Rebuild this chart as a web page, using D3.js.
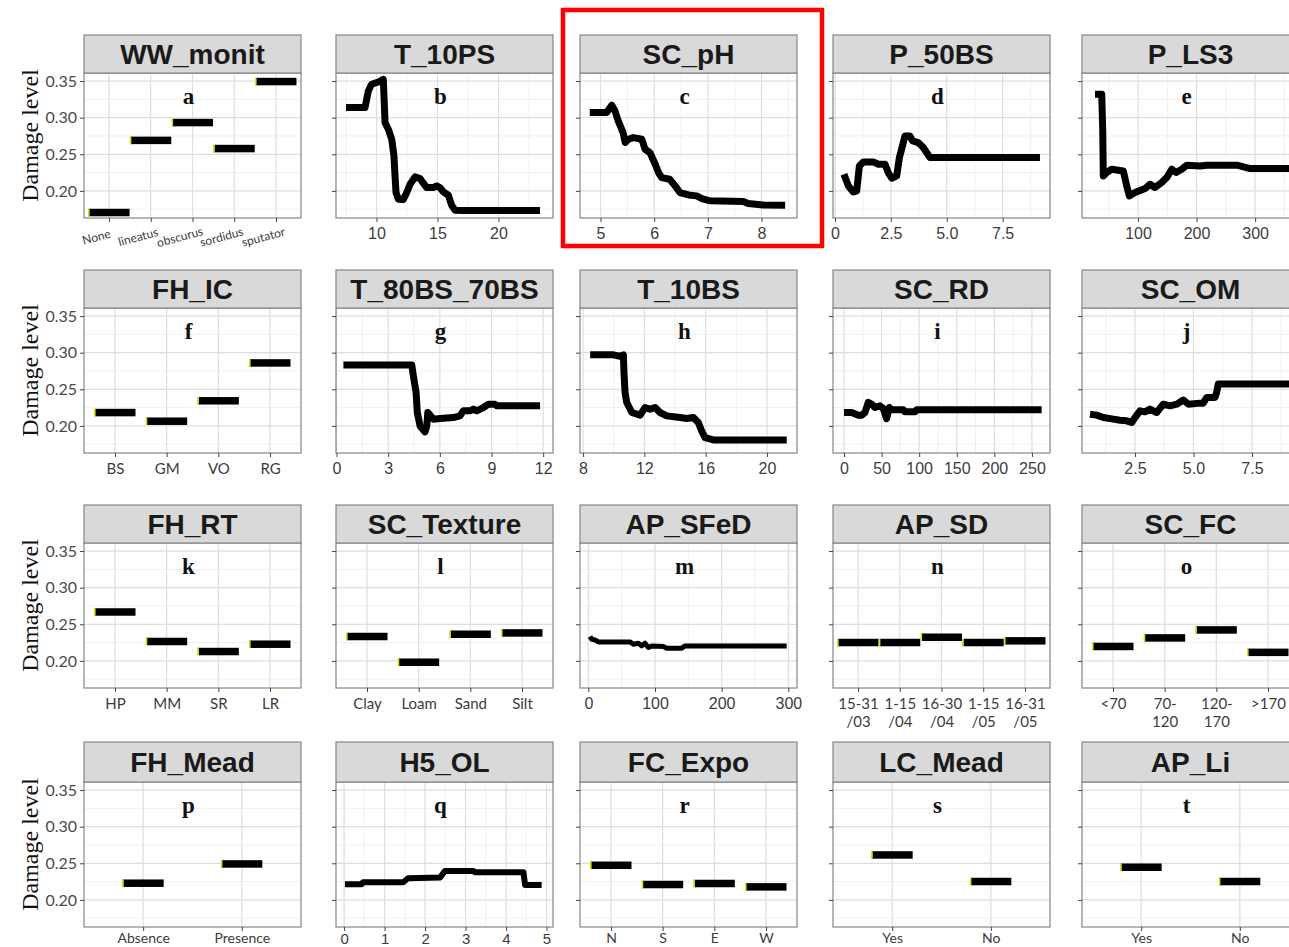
<!DOCTYPE html>
<html><head><meta charset="utf-8">
<script src="https://cdn.jsdelivr.net/npm/d3@7"></script>
<style>body{margin:0;background:#fff;overflow:hidden} svg{display:block}</style>
</head><body>
<svg id="chart" width="1289" height="947"></svg>
<script>
// ---------- shared y axis ----------
const yTicks = [0.20, 0.25, 0.30, 0.35];
const yMinor = [0.175, 0.225, 0.275, 0.325];
const yDomain = [0.163, 0.361];

// ---------- categorical panels ----------
const wwCats = ["None", "lineatus", "obscurus", "sordidus", "sputator"];
const wwVals = [0.1705, 0.269, 0.2933, 0.2578, 0.3493];
const icCats = ["BS", "GM", "VO", "RG"];
const icVals = [0.2182, 0.2064, 0.2343, 0.286];
const rtCats = ["HP", "MM", "SR", "LR"];
const rtVals = [0.2668, 0.2265, 0.2128, 0.2228];
const texCats = ["Clay", "Loam", "Sand", "Silt"];
const texVals = [0.2333, 0.1982, 0.2364, 0.2382];
const sdCats = ["15-31 /03", "1-15 /04", "16-30 /04", "1-15 /05", "16-31 /05"];
const sdVals = [0.2251, 0.2251, 0.2323, 0.2251, 0.2274];
const fcCats = ["<70", "70- 120", "120- 170", ">170"];
const fcVals = [0.2197, 0.2314, 0.2423, 0.2117];
const meadCats = ["Absence", "Presence"];
const meadVals = [0.2228, 0.2491];
const expoCats = ["N", "S", "E", "W"];
const expoVals = [0.2473, 0.221, 0.2224, 0.2178];
const lcCats = ["Yes", "No"];
const lcVals = [0.2614, 0.2251];
const liCats = ["Yes", "No"];
const liVals = [0.2446, 0.2251];

// ---------- continuous panels ----------
const t10psX = [7.5, 9.06, 9.33, 9.6, 10.15, 10.56, 10.7, 10.97, 11.25, 11.43, 11.52, 11.6, 11.79, 12.2, 12.48, 12.75, 13.16, 13.57, 13.84, 14.11, 14.66, 14.93, 15.2, 15.48, 15.89, 16.16, 16.43, 17.11, 23.4];
const t10psY = [0.3138, 0.3138, 0.3364, 0.3456, 0.3487, 0.3524, 0.2933, 0.2842, 0.2705, 0.2478, 0.2205, 0.1978, 0.1887, 0.1884, 0.1978, 0.2091, 0.2191, 0.2169, 0.2105, 0.2046, 0.2046, 0.2068, 0.2046, 0.1987, 0.1941, 0.1805, 0.1737, 0.1733, 0.1733];
const t10psTicks = [10, 15, 20];

const phX = [4.80, 5.115, 5.21, 5.27, 5.33, 5.42, 5.46, 5.52, 5.61, 5.77, 5.83, 5.92, 6.02, 6.08, 6.14, 6.29, 6.39, 6.48, 6.64, 6.79, 6.89, 7.04, 7.66, 7.75, 8.03, 8.44];
const phY = [0.307, 0.307, 0.3169, 0.3091, 0.2955, 0.2797, 0.266, 0.2705, 0.2728, 0.2705, 0.2569, 0.2524, 0.2364, 0.2251, 0.2182, 0.2159, 0.2068, 0.1978, 0.1945, 0.1932, 0.1896, 0.1864, 0.1855, 0.1828, 0.1809, 0.1805];
const phTicks = [5, 6, 7, 8];

const p50X = [0.40, 0.6, 0.82, 0.97, 1.09, 1.27, 1.71, 1.94, 2.24, 2.38, 2.54, 2.76, 2.88, 2.98, 3.13, 3.35, 3.47, 3.72, 3.95, 4.25, 9.17];
const p50Y = [0.2228, 0.2068, 0.1986, 0.2, 0.2341, 0.2396, 0.2396, 0.2364, 0.2364, 0.2251, 0.2173, 0.2205, 0.2455, 0.2569, 0.275, 0.275, 0.2682, 0.266, 0.2592, 0.2455, 0.2455];
const p50Ticks = [0, 2.5, 5, 7.5];
const p50Labels = ["0", "2.5", "5.0", "7.5"];

const pls3X = [26.5, 38, 39.7, 40.7, 46.5, 55, 74.9, 80.7, 85.1, 94.9, 112, 120.5, 129, 140.5, 149, 157.6, 165, 174.7, 183.2, 206, 217.4, 268.7, 291.5, 362];
const pls3Y = [0.3319, 0.3319, 0.2842, 0.2205, 0.2251, 0.2296, 0.2273, 0.2068, 0.1932, 0.1978, 0.2032, 0.2091, 0.2046, 0.2114, 0.2182, 0.2296, 0.2251, 0.2296, 0.2351, 0.2341, 0.2351, 0.2351, 0.2305, 0.2305];
const pls3Ticks = [100, 200, 300];

const t80X = [0.40, 4.37, 4.46, 4.62, 4.69, 4.85, 5.14, 5.24, 5.30, 5.43, 5.62, 6.01, 6.78, 7.17, 7.36, 7.75, 7.95, 8.14, 8.53, 8.82, 9.2, 9.3, 11.82];
const t80Y = [0.2833, 0.2833, 0.2686, 0.2457, 0.2183, 0.20, 0.1918, 0.20, 0.2183, 0.2147, 0.2092, 0.21, 0.2114, 0.2137, 0.2206, 0.2206, 0.2229, 0.2206, 0.2251, 0.2297, 0.2297, 0.2274, 0.2274];
const t80Ticks = [0, 3, 6, 9, 12];

const t10bsX = [8.46, 9.98, 10.41, 10.63, 10.67, 10.74, 10.85, 11.18, 11.72, 12.04, 12.37, 12.7, 13.02, 13.46, 14.33, 14.77, 15.2, 15.52, 15.74, 15.96, 16.5, 21.29];
const t10bsY = [0.297, 0.297, 0.2951, 0.297, 0.2732, 0.2457, 0.232, 0.2183, 0.2147, 0.2251, 0.2229, 0.2251, 0.2183, 0.2137, 0.2114, 0.21, 0.2114, 0.2046, 0.1931, 0.184, 0.1808, 0.1808];
const t10bsTicks = [8, 12, 16, 20];

const rdX = [0, 10.2, 19, 23.5, 27.9, 32.3, 36.8, 41.2, 47.9, 52.3, 56.7, 60.2, 63.4, 78.9, 81.1, 94.4, 96.7, 262.9];
const rdY = [0.2183, 0.2183, 0.2147, 0.2147, 0.2183, 0.232, 0.2297, 0.2251, 0.2274, 0.2237, 0.21, 0.2251, 0.222, 0.222, 0.2192, 0.2192, 0.222, 0.222];
const rdTicks = [0, 50, 100, 150, 200, 250];

const omX = [0.577, 0.863, 1.145, 1.573, 1.859, 2.145, 2.359, 2.5, 2.714, 2.927, 3.141, 3.427, 3.709, 3.996, 4.282, 4.564, 4.778, 5.278, 5.419, 5.564, 5.919, 5.991, 6.06, 6.205, 9.21];
const omY = [0.2160, 0.2147, 0.2114, 0.2092, 0.2078, 0.2069, 0.2046, 0.2114, 0.2206, 0.2192, 0.2229, 0.2183, 0.2297, 0.2274, 0.2297, 0.2353, 0.2297, 0.2311, 0.2311, 0.2388, 0.2388, 0.2457, 0.2572, 0.2572, 0.2572];
const omTicks = [2.5, 5, 7.5];
const omLabels = ["2.5", "5.0", "7.5"];

const sfedX = [2.5, 5, 10, 15, 62.5, 67.5, 75, 80, 85, 90, 95, 112.5, 117.5, 140, 145, 297.5];
const sfedY = [0.2333, 0.2296, 0.2287, 0.2259, 0.2259, 0.2228, 0.2241, 0.2205, 0.2241, 0.2183, 0.2205, 0.2196, 0.2173, 0.2173, 0.2205, 0.2205];
const sfedTicks = [0, 100, 200, 300];

const h5X = [0.02, 0.43, 0.47, 1.46, 1.58, 2.37, 2.49, 3.19, 3.23, 4.43, 4.47, 4.88];
const h5Y = [0.2214, 0.2214, 0.2241, 0.2241, 0.2296, 0.2305, 0.2396, 0.2396, 0.2378, 0.2378, 0.2205, 0.2205];
const h5Ticks = [0, 1, 2, 3, 4, 5];

// ---------- layout ----------
const rowTops = [35, 270, 505, 742];
const stripH = [38, 38, 38, 40];
const plotH = 145;
const colLefts = [84, 336, 580, 833, 1082];
const panelW = 217;

const panels = [
  {title: "WW_monit", letter: "a", row: 0, col: 0, cats: wwCats, vals: wwVals, rotate: true},
  {title: "T_10PS", letter: "b", row: 0, col: 1, xs: t10psX, ys: t10psY, dom: [6.68, 24.47], ticks: t10psTicks},
  {title: "SC_pH", letter: "c", row: 0, col: 2, xs: phX, ys: phY, dom: [4.618, 8.661], ticks: phTicks},
  {title: "P_50BS", letter: "d", row: 0, col: 3, xs: p50X, ys: p50Y, dom: [-0.09, 9.62], ticks: p50Ticks, labels: p50Labels},
  {title: "P_LS3", letter: "e", row: 0, col: 4, xs: pls3X, ys: pls3Y, dom: [4.3, 375], ticks: pls3Ticks},
  {title: "FH_IC", letter: "f", row: 1, col: 0, cats: icCats, vals: icVals},
  {title: "T_80BS_70BS", letter: "g", row: 1, col: 1, xs: t80X, ys: t80Y, dom: [-0.03, 12.57], ticks: t80Ticks},
  {title: "T_10BS", letter: "h", row: 1, col: 2, xs: t10bsX, ys: t10bsY, dom: [7.8, 21.96], ticks: t10bsTicks},
  {title: "SC_RD", letter: "i", row: 1, col: 3, xs: rdX, ys: rdY, dom: [-14.6, 274], ticks: rdTicks},
  {title: "SC_OM", letter: "j", row: 1, col: 4, xs: omX, ys: omY, dom: [0.235, 9.51], ticks: omTicks, labels: omLabels},
  {title: "FH_RT", letter: "k", row: 2, col: 0, cats: rtCats, vals: rtVals},
  {title: "SC_Texture", letter: "l", row: 2, col: 1, cats: texCats, vals: texVals},
  {title: "AP_SFeD", letter: "m", row: 2, col: 2, xs: sfedX, ys: sfedY, dom: [-12.5, 313], ticks: sfedTicks, lw: 5},
  {title: "AP_SD", letter: "n", row: 2, col: 3, cats: sdCats, vals: sdVals},
  {title: "SC_FC", letter: "o", row: 2, col: 4, cats: fcCats, vals: fcVals},
  {title: "FH_Mead", letter: "p", row: 3, col: 0, cats: meadCats, vals: meadVals},
  {title: "H5_OL", letter: "q", row: 3, col: 1, xs: h5X, ys: h5Y, dom: [-0.2, 5.16], ticks: h5Ticks, lw: 6},
  {title: "FC_Expo", letter: "r", row: 3, col: 2, cats: expoCats, vals: expoVals},
  {title: "LC_Mead", letter: "s", row: 3, col: 3, cats: lcCats, vals: lcVals},
  {title: "AP_Li", letter: "t", row: 3, col: 4, cats: liCats, vals: liVals}
];

const svg = d3.select("#chart");
const sans = "'Liberation Sans', Arial, sans-serif";
const tickFont = "Lato, 'Open Sans', sans-serif";
const serif = "'Liberation Serif', 'Times New Roman', serif";
const borderCol = "#858585";

function drawPanel(p) {
  const left = colLefts[p.col], right = left + panelW;
  const sTop = rowTops[p.row];
  const top = sTop + stripH[p.row], bottom = top + plotH;
  const y = d3.scaleLinear().domain(yDomain).range([bottom, top]);
  const g = svg.append("g");
  const isCat = !!p.cats;
  const lastRow = p.row === 3;
  let x, majorX = [], minorX = [];
  if (isCat) {
    x = d3.scalePoint().domain(p.cats).range([left, right]).padding(0.6);
    majorX = p.cats.map(c => x(c));
  } else {
    x = d3.scaleLinear().domain(p.dom).range([left, right]);
    majorX = p.ticks.map(t => x(t));
    const step = p.ticks[1] - p.ticks[0];
    for (let v = p.ticks[0] - step / 2; v <= p.dom[1]; v += step) {
      if (v >= p.dom[0]) minorX.push(x(v));
    }
  }
  g.append("rect").attr("x", left).attr("y", top).attr("width", panelW).attr("height", plotH).attr("fill", "#fff");
  // grid
  yMinor.forEach(v => g.append("line").attr("x1", left).attr("x2", right).attr("y1", y(v)).attr("y2", y(v))
    .attr("stroke", "#eeeeee").attr("stroke-width", 0.9));
  minorX.forEach(px => g.append("line").attr("x1", px).attr("x2", px).attr("y1", top).attr("y2", bottom)
    .attr("stroke", "#eeeeee").attr("stroke-width", 0.9));
  yTicks.forEach(v => g.append("line").attr("x1", left).attr("x2", right).attr("y1", y(v)).attr("y2", y(v))
    .attr("stroke", "#dedede").attr("stroke-width", 1.2));
  majorX.forEach(px => g.append("line").attr("x1", px).attr("x2", px).attr("y1", top).attr("y2", bottom)
    .attr("stroke", "#dedede").attr("stroke-width", 1.2));

  // letter
  g.append("text").attr("x", (left + right) / 2 - 4).attr("y", top + 31)
    .attr("text-anchor", "middle").attr("font-family", serif).attr("font-weight", "bold")
    .attr("font-size", 23).attr("fill", "#111").text(p.letter);

  // data
  if (isCat) {
    const bw = 41, bh = 7.5;
    p.cats.forEach((c, i) => {
      const cx = x(c), cy = y(p.vals[i]);
      g.append("rect").attr("x", cx - bw / 2).attr("y", cy - bh / 2).attr("width", bw).attr("height", bh).attr("fill", "#000");
      g.append("rect").attr("x", cx - bw / 2 - 0.5).attr("y", cy - bh / 2).attr("width", 1.6).attr("height", bh).attr("fill", "#e6e000");
    });
  } else {
    const pts = p.xs.map((v, i) => [v, p.ys[i]]);
    const line = d3.line().x(d => x(d[0])).y(d => y(d[1]));
    g.append("path").attr("d", line(pts)).attr("fill", "none").attr("stroke", "#000")
      .attr("stroke-width", p.lw || 7).attr("stroke-linejoin", "round").attr("stroke-linecap", "butt");
  }

  // border
  g.append("rect").attr("x", left).attr("y", top).attr("width", panelW).attr("height", plotH)
    .attr("fill", "none").attr("stroke", borderCol).attr("stroke-width", 1.2);
  // strip
  g.append("rect").attr("x", left).attr("y", sTop).attr("width", panelW).attr("height", stripH[p.row])
    .attr("fill", "#d9d9d9").attr("stroke", borderCol).attr("stroke-width", 1.2);
  g.append("text").attr("x", (left + right) / 2).attr("y", sTop + stripH[p.row] / 2 + 10)
    .attr("text-anchor", "middle").attr("font-family", sans).attr("font-weight", "bold")
    .attr("font-size", 28).attr("fill", "#1a1a1a").text(p.title);

  // y axis
  const yAx = d3.axisLeft(y).tickValues(yTicks).tickSize(4).tickPadding(3)
    .tickFormat(p.col === 0 ? d3.format(".2f") : () => "");
  const yg = g.append("g").attr("transform", `translate(${left},0)`).call(yAx);
  yg.select(".domain").remove();
  yg.selectAll("line").attr("stroke", "#444");
  yg.selectAll("text").attr("font-family", tickFont).attr("font-size", 16).attr("fill", "#4a4a4a");

  // x axis
  const pad = lastRow ? 2 : 6;
  let xAx;
  if (isCat) {
    xAx = d3.axisBottom(x).tickSize(4).tickPadding(pad);
  } else {
    const labs = p.labels;
    xAx = d3.axisBottom(x).tickValues(p.ticks).tickSize(4).tickPadding(pad)
      .tickFormat((d, i) => labs ? labs[i] : String(d));
  }
  const xg = g.append("g").attr("transform", `translate(0,${bottom})`).call(xAx);
  xg.select(".domain").remove();
  xg.selectAll("line").attr("stroke", "#444");
  const fsz = isCat ? (lastRow ? 14 : 15) : (lastRow ? 15 : 16);
  const txt = xg.selectAll("text").attr("font-family", isCat ? tickFont : sans)
    .attr("font-size", fsz).attr("fill", "#3c3c3c");
  if (p.rotate) {
    txt.attr("font-size", 12).attr("dy", null).attr("y", 0)
      .attr("transform", "translate(-12,23) rotate(-15)").attr("text-anchor", "middle");
  } else if (isCat) {
    txt.each(function(d) {
      const parts = String(d).split(" ");
      if (parts.length > 1) {
        const t = d3.select(this).text(null);
        parts.forEach((s, k) => t.append("tspan").attr("x", 0).attr("dy", k === 0 ? "0.71em" : "1.25em").text(s));
        t.attr("dy", null);
      }
    });
  }
}

panels.forEach(drawPanel);

// y axis titles
rowTops.forEach((rt, r) => {
  const top = rt + stripH[r];
  const cy = top + plotH / 2 - 10;
  svg.append("text").attr("transform", `translate(38,${cy}) rotate(-90)`)
    .attr("text-anchor", "middle").attr("font-family", serif).attr("font-size", 24)
    .attr("fill", "#111").text("Damage level");
});

// red highlight box around SC_pH
svg.append("rect").attr("x", 563).attr("y", 10).attr("width", 259).attr("height", 236)
  .attr("fill", "none").attr("stroke", "#ff0000").attr("stroke-width", 4.5);
</script>
</body></html>
